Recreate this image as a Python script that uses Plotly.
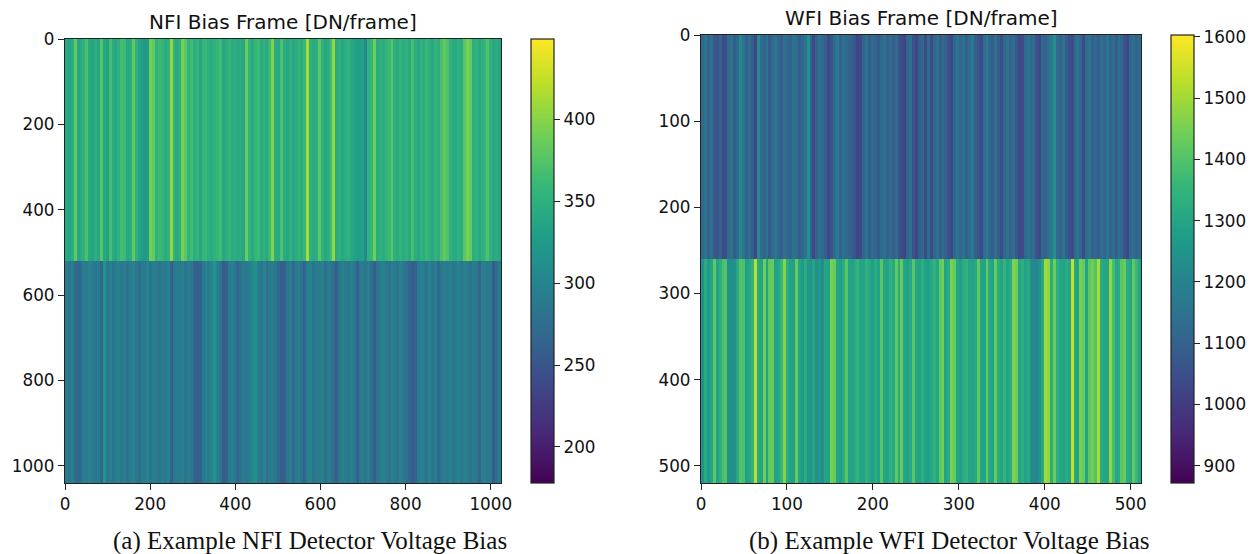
import plotly.graph_objects as go

W, H = 1254, 554

nfi_top = [340,336,346,384,338,344,352,370,342,336,
348,338,376,340,332,368,344,338,350,366,
362,340,346,382,350,336,330,322,328,390,
384,352,362,358,344,350,404,356,342,348,
392,380,352,364,346,354,340,358,360,348,
344,352,358,364,340,346,358,344,350,342,
346,338,386,352,342,358,362,344,350,340,
362,398,344,342,372,346,338,352,340,346,
358,346,360,414,350,342,346,380,352,340,
348,364,406,344,350,338,346,352,340,334,
330,328,332,306,350,358,390,344,352,346,
356,362,378,350,344,354,346,352,342,368,
348,338,352,344,360,350,340,354,346,370,
382,372,350,344,342,352,346,378,392,384,
348,354,342,350,358,372,352,340,346,338]
nfi_bot = [290,284,296,272,268,270,294,288,300,292,
284,292,266,320,286,296,282,290,298,286,
294,280,292,300,286,278,292,288,302,284,
296,290,280,294,288,298,262,284,292,288,
296,282,290,286,264,260,262,288,298,292,
304,318,296,284,258,262,290,296,284,266,
280,292,288,296,306,314,290,284,298,276,
288,292,284,270,258,262,284,292,270,288,
296,282,266,290,298,284,292,288,300,278,
292,286,276,262,288,296,290,284,298,286,
262,288,294,282,296,276,260,284,292,298,
288,280,294,290,284,298,286,276,266,258,
262,288,296,290,284,298,282,292,270,286,
294,288,300,284,292,298,286,296,290,282,
294,288,264,290,296,286,292,258,276,290]

wfi_top = [1120,1160,1100,1140,1080,1060,1110,1030,1050,1130,
1150,1090,1120,1215,1160,1100,1140,1090,1025,1225,
1130,1100,1150,1080,1120,1160,1110,1090,1140,1120,
1100,1150,1130,1090,1120,1160,1240,1110,1035,1100,
1150,1120,1090,1030,1060,1130,1170,1100,1140,1120,
1110,1090,1060,1020,1040,1110,1150,1090,1130,1110,
1080,1120,1150,1100,1130,1090,1120,1060,1040,1025,
1110,1140,1060,1025,1090,1120,1040,1130,1035,1110,
1150,1090,1130,1100,1060,1030,1120,1160,1110,1140,
1090,1130,1170,1100,1060,1035,1130,1180,1110,1090,
1140,1090,1040,1120,1150,1100,1130,1070,1030,1040,
1120,1150,1110,1130,1060,1030,1120,1100,1140,1170,
1240,1130,1100,1150,1090,1050,1040,1120,1160,1110,
1040,1130,1150,1100,1120,1090,1140,1110,1160,1100,
1130,1090,1150,1120,1060,1030,1120,1140,1100,1130]
wfi_bot = [1240,1320,1270,1300,1420,1290,1330,1390,1400,1240,
1230,1240,1310,1400,1390,1280,1300,1340,1530,1310,
1300,1440,1290,1420,1430,1280,1300,1360,1470,1320,
1290,1280,1430,1300,1270,1320,1260,1250,1300,1240,
1260,1230,1300,1290,1450,1430,1300,1280,1320,1410,
1300,1290,1320,1350,1300,1290,1340,1310,1280,1320,
1290,1410,1300,1290,1340,1310,1420,1320,1430,1300,
1280,1310,1410,1300,1290,1330,1290,1280,1310,1340,
1300,1420,1440,1290,1320,1450,1430,1300,1280,1320,
1340,1300,1290,1310,1420,1300,1290,1430,1310,1290,
1430,1320,1300,1350,1290,1320,1460,1440,1300,1330,
1290,1310,1230,1215,1210,1240,1310,1500,1480,1320,
1440,1330,1300,1290,1320,1300,1540,1310,1290,1450,
1430,1290,1420,1440,1400,1510,1320,1300,1300,1480,
1380,1300,1320,1410,1430,1320,1300,1420,1360,1300]

nfi_rows = [0, 520, 1040]
wfi_rows = [0, 260, 520]
nfi_ticks_x = [0, 200, 400, 600, 800, 1000]
nfi_ticks_y = [0, 200, 400, 600, 800, 1000]
wfi_ticks_x = [0, 100, 200, 300, 400, 500]
wfi_ticks_y = [0, 100, 200, 300, 400, 500]
nfi_cbar_ticks = [200, 250, 300, 350, 400]
wfi_cbar_ticks = [900, 1000, 1100, 1200, 1300, 1400, 1500, 1600]
nfi_width, wfi_width = 1024, 512
nfi_range = (178, 449)
wfi_range = (872, 1603)

def fx(p): return p / W
def fy(p): return 1 - p / H

def edges(total, n):
    return [total * i / n for i in range(n + 1)]

def cbar(x0, x1, y0, y1, ticks):
    return dict(
        x=fx(x0), xanchor="left", xref="paper", y=fy(y1), yanchor="bottom", yref="paper",
        len=(y1 - y0) / H, lenmode="fraction", thickness=x1 - x0, thicknessmode="pixels",
        outlinewidth=1.2, outlinecolor="#222", tickvals=ticks, ticks="outside", ticklen=6,
        tickwidth=1, tickcolor="#222", xpad=0, ypad=0,
        tickfont=dict(family="DejaVu Sans", size=16.8, color="#111"),
    )

fig = go.Figure()
fig.add_trace(go.Heatmap(
    z=[nfi_top, nfi_bot], x=edges(nfi_width, len(nfi_top)), y=nfi_rows, xaxis="x", yaxis="y",
    colorscale="Viridis", zmin=nfi_range[0], zmax=nfi_range[1], hoverinfo="skip",
    colorbar=cbar(531, 554, 39, 483, nfi_cbar_ticks)))
fig.add_trace(go.Heatmap(
    z=[wfi_top, wfi_bot], x=edges(wfi_width, len(wfi_top)), y=wfi_rows, xaxis="x2", yaxis="y2",
    colorscale="Viridis", zmin=wfi_range[0], zmax=wfi_range[1], hoverinfo="skip",
    colorbar=cbar(1171, 1194, 35, 483, wfi_cbar_ticks)))

ax = dict(showgrid=False, zeroline=False, showline=True, mirror=True, linecolor="#222",
          linewidth=1.3, ticks="outside", ticklen=6, tickwidth=1, tickcolor="#222", automargin=False,
          tickfont=dict(family="DejaVu Sans", size=16.8, color="#111"))

cap = dict(family="Liberation Serif", size=25, color="#111")
ttl = dict(family="DejaVu Sans", size=20, color="#111")

def note(text, x, y, font):
    return dict(text=text, x=fx(x), y=fy(y), xref="paper", yref="paper", xanchor="center",
                yanchor="middle", showarrow=False, font=font)

fig.update_layout(
    width=W, height=H, autosize=False, margin=dict(l=0, r=0, t=0, b=0, pad=0, autoexpand=False),
    paper_bgcolor="white", plot_bgcolor="white", showlegend=False,
    xaxis=dict(domain=[fx(65), fx(501)], range=[0, nfi_width], tickvals=nfi_ticks_x, anchor="y", **ax),
    yaxis=dict(domain=[fy(483), fy(39)], range=[1040, 0], tickvals=nfi_ticks_y, anchor="x", **ax),
    xaxis2=dict(domain=[fx(701), fx(1141)], range=[0, wfi_width], tickvals=wfi_ticks_x, anchor="y2", **ax),
    yaxis2=dict(domain=[fy(483), fy(35)], range=[520, 0], tickvals=wfi_ticks_y, anchor="x2", **ax),
    annotations=[
        note("NFI Bias Frame [DN/frame]", 283, 22, ttl),
        note("WFI Bias Frame [DN/frame]", 921, 18, ttl),
        note("(a) Example NFI Detector Voltage Bias", 310, 541, cap),
        note("(b) Example WFI Detector Voltage Bias", 949, 541, cap),
    ],
)
fig.write_html("out.html", config={"displayModeBar": False},
               post_script="document.body.style.margin='0';")
